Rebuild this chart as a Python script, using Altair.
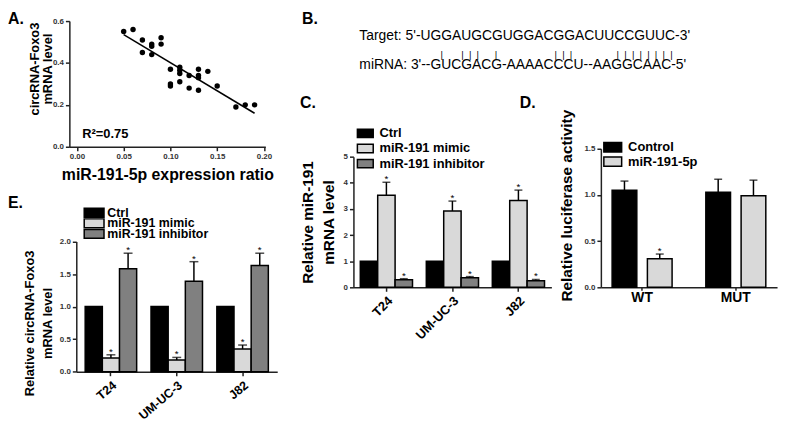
import altair as alt
import pandas as pd

FONT = "Liberation Sans"
NB = "\u00a0"
W, H = 782, 426  # drawing canvas (page margin of 8px around it)

# ---------------- Panel A : scatter ----------------
a_mir = [0.05, 0.06, 0.07, 0.07, 0.08, 0.08, 0.08, 0.09, 0.09, 0.10, 0.10, 0.10,
         0.11, 0.11, 0.11, 0.11, 0.12, 0.12, 0.13, 0.13, 0.13, 0.13, 0.14, 0.15,
         0.17, 0.18, 0.19]
a_circ = [0.55, 0.56, 0.51, 0.45, 0.49, 0.48, 0.44, 0.52, 0.49, 0.37, 0.30, 0.29,
          0.38, 0.365, 0.35, 0.31, 0.34, 0.28, 0.37, 0.34, 0.33, 0.27, 0.36, 0.29,
          0.19, 0.20, 0.20]
a_x_ticks = [0, 0.05, 0.10, 0.15, 0.20]
a_y_ticks = [0, 0.2, 0.4, 0.6]
a_r2 = "R\u00b2=0.75"

# ---------------- Panel B : sequences ----------------
b_rows = ["target", "pairs", "mirna"]
b_target = "Target: 5'-UGGAUGCGUGGACGGACUUCCGUUC-3'"
b_mirna = "miRNA: 3'--GUCGACG-AAAACCCU--AAGGCAAC-5'"
b_pair_gaps = [7, 2, 2, 6, 22, 2, 2, 17, 2, 2, 2, 2, 2, 2, 2]

# ---------------- Panel C ----------------
cells = ["T24", "UM-UC-3", "J82"]
c_conds = ["Ctrl", "miR-191 mimic", "miR-191 inhibitor"]
c_ctrl = [1.0, 1.0, 1.0]
c_mimic = [3.52, 2.92, 3.32]
c_mimic_err = [0.50, 0.38, 0.40]
c_inhib = [0.29, 0.37, 0.25]
c_inhib_err = [0.04, 0.04, 0.05]

# ---------------- Panel D ----------------
d_groups = ["WT", "MUT"]
d_conds = ["Control", "miR-191-5p"]
d_control = [1.05, 1.03]
d_control_err = [0.10, 0.14]
d_mir = [0.31, 0.99]
d_mir_err = [0.05, 0.17]
d_mir_star = [True, False]

# ---------------- Panel E ----------------
e_conds = ["Ctrl", "miR-191 mimic", "miR-191 inhibitor"]
e_ctrl = [1.0, 1.0, 1.0]
e_mimic = [0.21, 0.18, 0.35]
e_mimic_err = [0.05, 0.04, 0.06]
e_inhib = [1.58, 1.39, 1.63]
e_inhib_err = [0.24, 0.30, 0.19]

tri_colors = ["#000000", "#d9d9d9", "#808080"]
duo_colors = ["#000000", "#d9d9d9"]


def frame(groups, conds, series):
    rows = []
    for cond, (vals, errs, stars) in zip(conds, series):
        for g, v, e, s in zip(groups, vals, errs, stars):
            rows.append({"grp": g, "cond": cond, "val": v, "err": e, "star": s})
    return pd.DataFrame(rows)


def note(text, x, y, size=16, weight="bold"):
    return alt.Chart(pd.DataFrame({"t": [text]})).mark_text(
        align="left", baseline="alphabetic", fontSize=size, fontWeight=weight, color="black"
    ).encode(text="t:N", x=alt.value(x), y=alt.value(y))


AX = dict(grid=False, labelFontSize=8, labelFontWeight="bold", labelColor="#333",
          domainColor="#222", domainWidth=1.5, tickColor="#222", tickWidth=1.5,
          tickSize=4, labelPadding=2, titleFontWeight="bold", titleColor="black")
XAX = dict(labelFontWeight="bold", labelColor="black", domainColor="#222", domainWidth=1.5,
           tickColor="#222", tickWidth=1.5, title=None)


def key(conds, colors, sym_x, lab_x, yrange, path, size, fs):
    """Legend drawn from the condition list: swatch + label per row."""
    df = pd.DataFrame({"cond": conds})
    y = alt.Y("cond:N", sort=conds, axis=None,
              scale=alt.Scale(type="point", domain=conds, range=yrange, padding=0))
    sw = alt.Chart(df).mark_point(shape=path, size=size, filled=True, opacity=1,
                                  stroke="black", strokeWidth=1.5).encode(
        y=y, x=alt.value(sym_x),
        color=alt.Color("cond:N", scale=alt.Scale(domain=conds, range=colors), legend=None))
    lab = alt.Chart(df).mark_text(align="left", baseline="middle", fontSize=fs,
                                  fontWeight="bold", color="black").encode(
        y=y, x=alt.value(lab_x), text="cond:N")
    return alt.layer(sw, lab)


def bar_panel(df, groups, conds, colors, xrange, xpad, offpad, ydom, yrange, yvals, yfmt,
              yaxis_kw, xaxis_kw, cap):
    yscale = alt.Scale(domain=ydom, range=yrange, nice=False)
    yax = alt.Axis(orient="left", offset=-xrange[0], values=yvals, format=yfmt, **AX, **yaxis_kw)
    xax = alt.Axis(orient="bottom", offset=yrange[0] - H, **XAX, **xaxis_kw)
    base = alt.Chart(df).transform_calculate(top="datum.val + datum.err").encode(
        x=alt.X("grp:N", sort=groups,
                scale=alt.Scale(range=xrange, paddingInner=xpad[0], paddingOuter=xpad[1]),
                axis=xax),
        xOffset=alt.XOffset("cond:N", sort=conds,
                            scale=alt.Scale(paddingInner=offpad, paddingOuter=0)),
    )
    bars = base.mark_bar(stroke="black", strokeWidth=1.5).encode(
        y=alt.Y("val:Q", scale=yscale, axis=yax),
        color=alt.Color("cond:N", sort=conds, scale=alt.Scale(domain=conds, range=colors),
                        legend=None),
    )
    err = base.transform_filter("datum.err > 0").mark_rule(color="black", strokeWidth=1.5).encode(
        y=alt.Y("val:Q", scale=yscale, axis=yax), y2="top:Q")
    caps = base.transform_filter("datum.err > 0").mark_tick(
        color="black", thickness=1.5, size=cap).encode(y=alt.Y("top:Q", scale=yscale, axis=yax))
    stars = base.transform_filter("datum.star").mark_text(
        text="*", fontSize=10, baseline="alphabetic", color="black").encode(
        y=alt.Y("top:Q", scale=yscale, axis=yax))
    return alt.layer(bars, err, caps, stars)


# ---- A ----
a_df = pd.DataFrame({"mir": a_mir, "circ": a_circ})
ax_x = alt.X("mir:Q", scale=alt.Scale(domain=[-0.0081, 0.2015], range=[62, 260], nice=False,
                                      zero=False),
             axis=alt.Axis(orient="bottom", offset=138 - H, values=a_x_ticks, format=".2f",
                           title="miR-191-5p expression ratio", titleFontSize=16,
                           titlePadding=6, **AX))
ax_y = alt.Y("circ:Q", scale=alt.Scale(domain=[0, 0.6], range=[138, 11], nice=False),
             axis=alt.Axis(orient="left", offset=-62, values=a_y_ticks, format=".1f",
                           title=["circRNA-Foxo3", "mRNA level"], titleFontSize=13,
                           titleLineHeight=13, titleX=-28, titleY=59, **AX))
a_pts = alt.Chart(a_df).mark_circle(size=30, color="black", opacity=1).encode(x=ax_x, y=ax_y)
a_line = alt.Chart(a_df).transform_regression("mir", "circ").mark_line(
    color="black", strokeWidth=1.5).encode(x=ax_x, y=ax_y)
panel_a = alt.layer(a_pts, a_line)

# ---- B ----
pairs = "|" + "".join(NB * g + "|" for g in b_pair_gaps)
b_df = pd.DataFrame({"row": b_rows, "text": [b_target, pairs, b_mirna]})
b_y = alt.Y("row:N", sort=b_rows, axis=None,
            scale=alt.Scale(type="point", domain=b_rows, range=[26, 55], padding=0))
b_seq = alt.Chart(b_df).transform_filter("datum.row != 'pairs'").mark_text(
    align="left", baseline="middle", fontSize=14, color="black").encode(
    text="text:N", y=b_y, x=alt.value(355))
b_pairs = alt.Chart(b_df).transform_filter("datum.row == 'pairs'").mark_text(
    align="left", baseline="middle", fontSize=9.5, color="black", dy=4.5).encode(
    text="text:N", y=b_y, x=alt.value(437))
panel_b = alt.layer(b_seq, b_pairs)

# ---- C ----
c_df = frame(cells, c_conds, [
    (c_ctrl, [0, 0, 0], [False] * 3),
    (c_mimic, c_mimic_err, [True] * 3),
    (c_inhib, c_inhib_err, [True] * 3),
])
panel_c = bar_panel(
    c_df, cells, c_conds, tri_colors, [349, 549], (0.209, 0.104), 0,
    [0, 5], [280, 148], [0, 1, 2, 3, 4, 5], "d",
    dict(title=["Relative miR-191", "mRNA level"], titleFontSize=15.5, titleLineHeight=21,
         titleX=-38, titleY=214),
    dict(labelAngle=-45, labelFontSize=13, tickSize=4, labelPadding=3), 8)
key_c = key(c_conds, tri_colors, 361, 375.3, [124.5, 155], "M-1,-0.53H1V0.53H-1Z", 256, 13)

# ---- D ----
d_df = frame(d_groups, d_conds, [
    (d_control, d_control_err, [False, False]),
    (d_mir, d_mir_err, d_mir_star),
])
panel_d = bar_panel(
    d_df, d_groups, d_conds, duo_colors, [599, 777], (0.36, 0.12), 0.3,
    [0, 1.5], [280, 140], [0, 0.5, 1.0, 1.5], ".1f",
    dict(title="Relative luciferase activity", titleFontSize=15.5, titleX=-27, titleY=197),
    dict(labelAngle=0, labelFontSize=14, labelBaseline="top", tickSize=3, labelPadding=0), 8)
key_d = key(d_conds, duo_colors, 611, 626.5, [138.5, 153], "M-1,-0.53H1V0.53H-1Z", 324, 13)

# ---- E ----
e_df = frame(cells, e_conds, [
    (e_ctrl, [0, 0, 0], [False] * 3),
    (e_mimic, e_mimic_err, [True] * 3),
    (e_inhib, e_inhib_err, [True] * 3),
])
panel_e = bar_panel(
    e_df, cells, e_conds, tri_colors, [69, 272], (0.218, 0.135), 0,
    [0, 2], [365.3, 233.7], [0, 0.5, 1.0, 1.5, 2.0], ".1f",
    dict(title=["Relative circRNA-Foxo3", "mRNA level"], titleFontSize=13, titleLineHeight=18,
         titleX=-40, titleY=316),
    dict(labelAngle=-40, labelFontSize=12.5, tickSize=4, labelPadding=3), 9)
key_e = key(e_conds, tri_colors, 87, 100.3, [204.7, 226], "M-1,-0.45H1V0.45H-1Z", 400, 12.5)

notes = [
    note("A.", 0, 14), note("B.", 297, 14), note("C.", 295, 99), note("D.", 517, 99),
    note("E.", 0, 200), note(a_r2, 75, 129, size=13),
]

chart = alt.layer(panel_a, panel_b, panel_c, key_c, panel_d, key_d, panel_e, key_e,
                  *notes).resolve_scale(
    x="independent", y="independent", color="independent", xOffset="independent"
).properties(width=W, height=H, padding=0).configure(font=FONT).configure_view(stroke=None)

chart.save("out.html", embed_options={"renderer": "svg", "actions": False})
